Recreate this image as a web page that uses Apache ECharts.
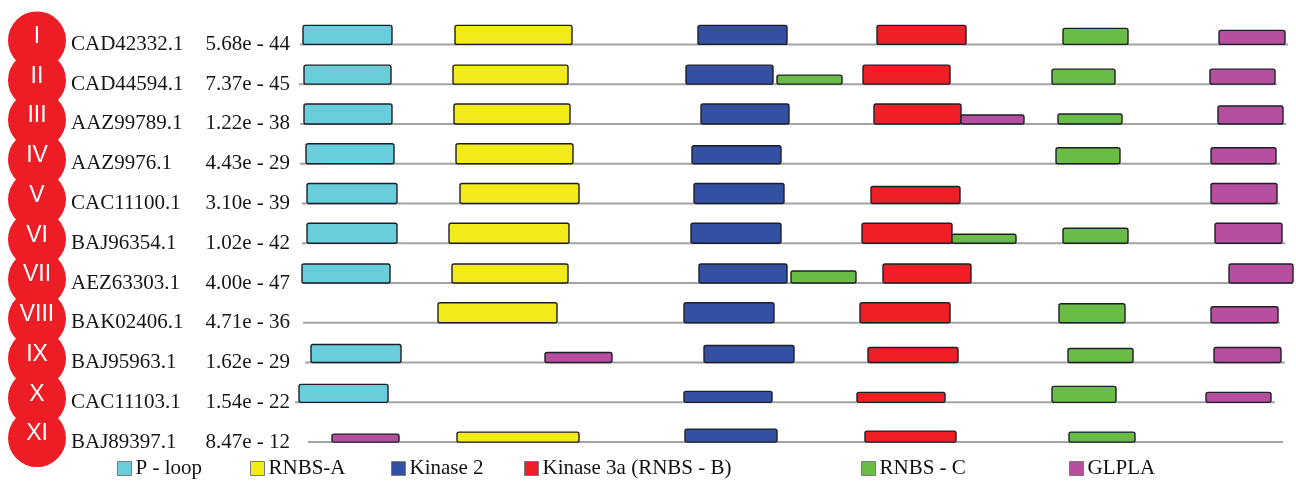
<!DOCTYPE html>
<html>
<head>
<meta charset="utf-8">
<title>NBS motifs</title>
<script src="https://cdn.jsdelivr.net/npm/echarts@6/dist/echarts.min.js"></script>
<style>
  html, body { margin: 0; padding: 0; background: #fff; }
  #chart { width: 1296px; height: 484px; }
</style>
</head>
<body>
<div id="chart"></div>
<script>
// sequences, top to bottom
var numerals = ['I', 'II', 'III', 'IV', 'V', 'VI', 'VII', 'VIII', 'IX', 'X', 'XI']
var accessions = ['CAD42332.1', 'CAD44594.1', 'AAZ99789.1', 'AAZ9976.1', 'CAC11100.1', 'BAJ96354.1',
  'AEZ63303.1', 'BAK02406.1', 'BAJ95963.1', 'CAC11103.1', 'BAJ89397.1']
var eValues = ['5.68e - 44', '7.37e - 45', '1.22e - 38', '4.43e - 29', '3.10e - 39', '1.02e - 42',
  '4.00e - 47', '4.71e - 36', '1.62e - 29', '1.54e - 22', '8.47e - 12']
// [row, start, end] of each sequence line
var seqSpan = [[0, 8, 996], [1, 7, 985], [2, 8, 994], [3, 8, 988], [4, 10, 988], [5, 10, 993],
  [6, 10, 1001], [7, 11, 988], [8, 13, 993], [9, 3, 983], [10, 16, 991]]

// motifs: [row, start, end, relative score]
var pLoop = [[0, 11, 100, 0.95], [1, 12, 99, 0.95], [2, 12, 100, 1], [3, 14, 102, 1], [4, 15, 105, 1],
  [5, 15, 105, 1], [6, 10, 98, 0.95], [8, 19, 109, 0.9], [9, 7, 96, 0.9]]
var rnbsA = [[0, 163, 280, 0.95], [1, 161, 276, 0.95], [2, 162, 278, 1], [3, 164, 281, 1], [4, 168, 287, 1],
  [5, 157, 277, 1], [6, 160, 276, 0.95], [7, 146, 265, 1], [10, 165, 287, 0.5]]
var kinase2 = [[0, 406, 495, 0.95], [1, 394, 481, 0.95], [2, 409, 497, 1], [3, 400, 489, 0.9], [4, 402, 492, 1],
  [5, 399, 489, 1], [6, 407, 495, 0.95], [7, 392, 482, 1], [8, 412, 502, 0.85], [9, 392, 480, 0.55],
  [10, 393, 485, 0.65]]
var kinase3a = [[0, 585, 674, 0.95], [1, 571, 658, 0.95], [2, 582, 669, 1], [4, 579, 668, 0.85],
  [5, 570, 660, 1], [6, 591, 679, 0.95], [7, 568, 658, 1], [8, 576, 666, 0.75], [9, 565, 653, 0.5],
  [10, 573, 664, 0.55]]
var rnbsC = [[0, 771, 836, 0.8], [1, 485, 550, 0.45], [1, 760, 823, 0.75], [2, 766, 830, 0.5],
  [3, 764, 828, 0.8], [5, 660, 724, 0.45], [5, 771, 836, 0.75], [6, 499, 564, 0.6], [7, 767, 833, 0.95],
  [8, 776, 841, 0.7], [9, 760, 824, 0.8], [10, 777, 843, 0.5]]
var glpla = [[0, 927, 993, 0.7], [1, 918, 983, 0.75], [2, 669, 732, 0.45], [2, 926, 991, 0.9],
  [3, 919, 984, 0.8], [4, 919, 985, 1], [5, 923, 990, 1], [6, 937, 1001, 0.95], [7, 919, 986, 0.8],
  [8, 253, 320, 0.5], [8, 922, 989, 0.75], [9, 914, 979, 0.5], [10, 40, 107, 0.4]]

var motifNames = ['P - loop', 'RNBS-A', 'Kinase 2', 'Kinase 3a (RNBS - B)', 'RNBS - C', 'GLPLA']
var motifData = [pLoop, rnbsA, kinase2, kinase3a, rnbsC, glpla]
var motifColors = ['#69CDDB', '#F2EA19', '#3450A3', '#EE1F26', '#69BD46', '#B64F9F']
var legendLeft = [117, 250, 391, 524, 861, 1069]

var serif = '"Liberation Serif", "Times New Roman", serif'
var boxH = 20

var chart = echarts.init(document.getElementById('chart'))

function renderMotif(params, api) {
  var row = api.value(0)
  var p0 = api.coord([api.value(1), row])
  var p1 = api.coord([api.value(2), row])
  var h = api.value(3) * boxH
  return {
    type: 'rect',
    shape: { x: p0[0], y: p0[1] - h, width: p1[0] - p0[0], height: h, r: 2 },
    style: api.style({ stroke: '#1e1e28', lineWidth: 1.4 })
  }
}

function renderSeq(params, api) {
  var row = api.value(0)
  var p0 = api.coord([api.value(1), row])
  var p1 = api.coord([api.value(2), row])
  return {
    type: 'line',
    shape: { x1: p0[0], y1: p0[1], x2: p1[0], y2: p1[1] },
    style: { stroke: '#a3a3a3', lineWidth: 2 }
  }
}

var series = [{
  name: 'sequence',
  type: 'custom',
  renderItem: renderSeq,
  data: seqSpan,
  encode: { x: [1, 2], y: 0 },
  silent: true,
  z: 1
}]
motifNames.forEach(function(name, i) {
  series.push({
    name: name,
    type: 'custom',
    renderItem: renderMotif,
    data: motifData[i],
    encode: { x: [1, 2], y: 0 },
    itemStyle: { color: motifColors[i] },
    z: 2
  })
})
series.push({
  name: 'group',
  type: 'scatter',
  xAxisIndex: 1,
  yAxisIndex: 1,
  symbol: 'circle',
  symbolSize: 58,
  symbolOffset: [0, -4],
  itemStyle: { color: '#EC1D25', opacity: 1 },
  label: {
    show: true,
    position: 'inside',
    offset: [0, -4],
    formatter: function(p) { return numerals[p.dataIndex] },
    color: '#fff',
    fontFamily: '"Liberation Sans", Arial, sans-serif',
    fontSize: 23
  },
  data: numerals.map(function(n, i) { return [37, i] }),
  silent: true
})

var legends = motifNames.map(function(name, i) {
  return {
    data: [name],
    left: legendLeft[i],
    top: 458,
    padding: 0,
    icon: 'rect',
    itemWidth: 14,
    itemHeight: 14,
    itemGap: 4,
    selectedMode: false,
    itemStyle: { borderColor: '#7a7a7a', borderWidth: 1 },
    textStyle: { fontFamily: serif, fontSize: 21, color: '#111', padding: [0, 0, 0, -1] }
  }
})

var option = {
  animation: false,
  backgroundColor: '#fff',
  legend: legends,
  grid: [
    { left: 292, right: 0, top: 24.5, bottom: 22 },
    { left: 0, width: 80, top: 24.5, bottom: 22 }
  ],
  xAxis: [
    { type: 'value', min: 0, max: 1004, show: false },
    { type: 'value', gridIndex: 1, min: 0, max: 80, show: false }
  ],
  yAxis: [
    {
      type: 'category',
      data: accessions,
      inverse: true,
      axisLine: { show: false },
      axisTick: { show: false },
      splitLine: { show: false },
      axisLabel: {
        margin: 2,
        align: 'right',
        formatter: function(v, i) {
          return '{acc|' + v + '}{ev|' + eValues[i] + '}'
        },
        rich: {
          acc: { width: 133, align: 'left', fontFamily: serif, fontSize: 21, color: '#151515' },
          ev: { width: 86, align: 'right', fontFamily: serif, fontSize: 21, color: '#151515' }
        }
      }
    },
    { type: 'category', gridIndex: 1, data: numerals, inverse: true, show: false }
  ],
  series: series
}
chart.setOption(option)
window.addEventListener('resize', function() {
  chart.resize()
})
</script>
</body>
</html>
